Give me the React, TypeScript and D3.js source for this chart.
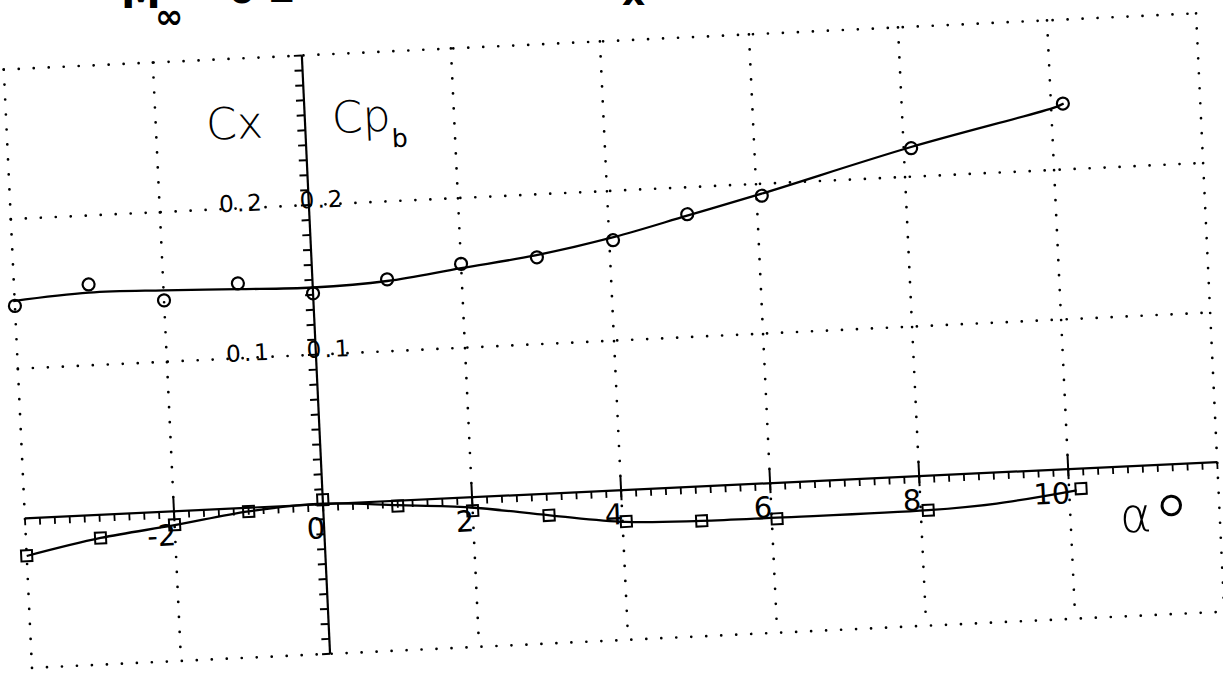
import React from 'react';
import * as d3 from 'd3';

// ---- data ----
const alphaPts = [-4, -3, -2, -1, 0, 1, 2, 3.02, 4.05, 5.06, 6.07, 8.1, 10.16];
const cxPts = [0.142, 0.154, 0.141, 0.150, 0.141, 0.148, 0.156, 0.158, 0.167, 0.182, 0.192, 0.219, 0.244];
const cpbPts = [-0.025, -0.0155, -0.009, -0.0025, 0.003, -0.0035, -0.009, -0.0145, -0.021, -0.023, -0.024, -0.023, -0.0134];

const cxFitAlpha = [-4.02, -3, -2, -1, 0, 1, 2, 3, 4.06, 5.07, 6.07, 8.1, 10.06, 10.17];
const cxFit = [0.1453, 0.1485, 0.1477, 0.1461, 0.1449, 0.1469, 0.1532, 0.1593, 0.169, 0.1812, 0.1934, 0.2198, 0.2419, 0.244];
const cpbFitAlpha = [-4, -3, -2, -1, 0, 1, 1.97, 3.03, 4.04, 5.05, 6.07, 8.1, 9.02, 10.1];
const cpbFit = [-0.0252, -0.0155, -0.0093, -0.0024, 0.0004, -0.003, -0.0068, -0.0145, -0.0213, -0.023, -0.0232, -0.023, -0.0207, -0.0144];

const xTickValues = [-2, 0, 2, 4, 6, 8, 10];
const xTickLabels = ['-2', '0', '2', '4', '6', '8', '10'];
const yTickValues = [0.1, 0.2];
const yTickLabels = ['0.1', '0.2'];
const xGridValues = [-4, -2, 2, 4, 6, 8, 10, 12];
const yGridValues = [-0.1, 0.1, 0.2, 0.3];
const xDomain = [-4, 12];
const yDomain = [-0.1, 0.3];

const W = 1223;
const H = 679;
const ROT = -2.7;

const FONT = "'DejaVu Sans', 'Liberation Sans', sans-serif";

export default function App() {
  const x = d3.scaleLinear().domain(xDomain).range([24.6, 1218.2]);
  const y = d3.scaleLinear().domain(yDomain).range([654, 55]);
  const ox = x(0);
  const oy = y(0);

  const line = d3
    .line<[number, number]>()
    .x((d) => x(d[0]))
    .y((d) => y(d[1]))
    .curve(d3.curveCatmullRom.alpha(0.5));

  const cxLine = line(cxFitAlpha.map((a, i) => [a, cxFit[i]] as [number, number])) || '';
  const cpbLine = line(cpbFitAlpha.map((a, i) => [a, cpbFit[i]] as [number, number])) || '';

  const minorX = d3.range(-40, 121, 2).map((v) => v / 10);
  const minorY = d3.range(-10, 31, 1).map((v) => v / 100);

  const dotted = {
    stroke: '#000',
    strokeWidth: 2.7,
    strokeDasharray: '0 15',
    strokeLinecap: 'round' as const,
    fill: 'none',
  };

  return (
    <svg
      width={W}
      height={H}
      viewBox={`0 0 ${W} ${H}`}
      style={{ position: 'absolute', left: 0, top: 0, background: '#fff' }}
    >
      <rect x={0} y={0} width={W} height={H} fill="#fff" />
      {/* title fragments (cut off by top edge, as in the scan) */}
      <g fontFamily={FONT} fontWeight="bold" fill="#000">
        <text x={121} y={8} fontSize={40}>M</text>
        <text x={155} y={28} fontSize={34}>∞</text>
        <text x={228} y={3} fontSize={40}>0</text>
        <text x={268} y={2} fontSize={40}>2</text>
        <text x={622} y={5} fontSize={36}>x</text>
      </g>
      <g transform={`rotate(${ROT}, ${ox}, ${oy})`}>
        {/* grid */}
        {yGridValues.map((v) => (
          <line key={'gy' + v} x1={x(xDomain[0])} x2={x(xDomain[1])} y1={y(v)} y2={y(v)} {...dotted} />
        ))}
        {xGridValues.map((v) => (
          <line key={'gx' + v} x1={x(v)} x2={x(v)} y1={y(yDomain[1])} y2={y(yDomain[0])} {...dotted} />
        ))}
        {/* vertical axis */}
        <line x1={ox} x2={ox} y1={y(yDomain[1])} y2={y(yDomain[0])} stroke="#000" strokeWidth={2.2} />
        {minorY.map((v) => (
          <line key={'ty' + v} x1={ox - 8} x2={ox} y1={y(v)} y2={y(v)} stroke="#000" strokeWidth={2} />
        ))}
        {/* horizontal axis */}
        <line x1={x(xDomain[0])} x2={x(xDomain[1])} y1={oy} y2={oy} stroke="#000" strokeWidth={2.2} />
        {minorX.map((v) => (
          <line key={'tx' + v} x1={x(v)} x2={x(v)} y1={oy} y2={oy + 7} stroke="#000" strokeWidth={1.8} />
        ))}
        {xTickValues.filter((v) => v !== 0).map((v) => (
          <line key={'mx' + v} x1={x(v)} x2={x(v)} y1={oy - 14} y2={oy + 10} stroke="#000" strokeWidth={2} />
        ))}
        {/* tick labels */}
        <g fontFamily={FONT} fill="#000">
          {xTickValues.map((v, i) => (
            <text key={'lx' + v} x={x(v) + 1} y={oy + 34} fontSize={29} textAnchor="end">
              {xTickLabels[i]}
            </text>
          ))}
          {yTickValues.map((v, i) => (
            <text key={'ly' + v} x={ox - 44} y={y(v) + 3} fontSize={23} textAnchor="end" letterSpacing={3}>
              {yTickLabels[i]}
            </text>
          ))}
          {yTickValues.map((v, i) => (
            <text key={'ry' + v} x={ox - 9} y={y(v) + 3} fontSize={23} textAnchor="start" letterSpacing={3}>
              {yTickLabels[i]}
            </text>
          ))}
          <text x={ox - 99} y={135} fontSize={44} fontWeight={200}>Cx</text>
          <text x={ox + 27} y={134} fontSize={44} fontWeight={200}>Cp</text>
          <text x={ox + 86} y={151} fontSize={25}>b</text>
          <text x={x(xDomain[1]) - 100} y={oy + 66} fontSize={48} fontWeight={200}>α</text>
          <text x={x(xDomain[1]) - 68} y={oy + 88} fontSize={80} fontWeight={200}>°</text>
        </g>
        {/* fitted curves */}
        <path d={cxLine} fill="none" stroke="#000" strokeWidth={2.3} />
        <path d={cpbLine} fill="none" stroke="#000" strokeWidth={2.3} />
        {/* markers */}
        {alphaPts.map((a, i) => (
          <circle key={'c' + i} cx={x(a)} cy={y(cxPts[i])} r={6} fill="none" stroke="#000" strokeWidth={2.2} />
        ))}
        {alphaPts.map((a, i) => (
          <rect
            key={'s' + i}
            x={x(a) - 5.5}
            y={y(cpbPts[i]) - 5.5}
            width={11}
            height={11}
            fill="none"
            stroke="#000"
            strokeWidth={2}
          />
        ))}
      </g>
    </svg>
  );
}
